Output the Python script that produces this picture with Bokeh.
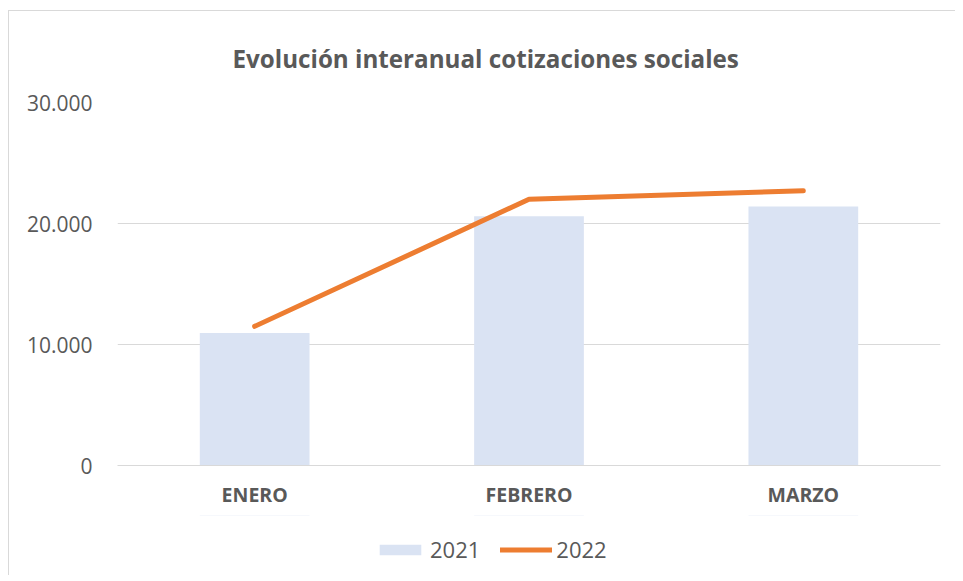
from bokeh.plotting import figure
from bokeh.layouts import column
from bokeh.models import ColumnDataSource, Legend, LegendItem, CustomJSTickFormatter, FixedTicker, Range1d
from bokeh.embed import file_html
from bokeh.resources import INLINE

months = ["ENERO", "FEBRERO", "MARZO"]
v2021 = [10950, 20600, 21400]
v2022 = [11500, 22000, 22700]
series_names = ["2021", "2022"]
title_text = "Evolución interanual cotizaciones sociales"
yticks = [0, 10000, 20000, 30000]

src = ColumnDataSource(dict(m=months, a=v2021, b=v2022))

FONT = "Open Sans"
GREY = "#595959"
BAR = "#dae3f3"
LINE = "#ed7d31"

p = figure(x_range=months, y_range=(0, 30000), width=946, height=504,
           output_backend="svg", toolbar_location=None,
           min_border_left=108, min_border_right=15, min_border_top=89, min_border_bottom=50)
p.outline_line_color = None

bars = p.vbar(x="m", top="a", width=0.4, source=src, fill_color=BAR, line_color=None)
line = p.line(x="m", y="b", source=src, line_color=LINE, line_width=5, line_cap="round", line_join="round")

p.title.text = title_text
p.title.align = "left"
p.title.offset = 115
p.title.standoff = 56
p.title.text_font = FONT
p.title.text_font_size = "24.2px"
p.title.text_font_style = "bold"
p.title.text_color = GREY

p.yaxis.ticker = FixedTicker(ticks=yticks)
p.yaxis.formatter = CustomJSTickFormatter(code="return tick == 0 ? '0' : (tick/1000).toFixed(0) + '.000';")
p.yaxis.axis_line_color = None
p.yaxis.major_tick_line_color = None
p.yaxis.minor_tick_line_color = None
p.yaxis.major_label_text_font = FONT
p.yaxis.major_label_text_font_size = "21px"
p.yaxis.major_label_text_color = GREY
p.yaxis.major_label_standoff = 19

p.xaxis.axis_line_color = "#d9d9d9"
p.xaxis.axis_line_width = 1
p.xaxis.major_tick_line_color = None
p.xaxis.minor_tick_line_color = None
p.xaxis.major_label_text_font = FONT
p.xaxis.major_label_text_font_size = "19.5px"
p.xaxis.major_label_text_font_style = "bold"
p.xaxis.major_label_text_color = GREY
p.xaxis.major_label_standoff = 9

p.xgrid.grid_line_color = None
p.ygrid.grid_line_color = "#d9d9d9"
p.ygrid.grid_line_width = 1

# legend strip below the chart (series drawn out of view, only their legend entries show)
lf = figure(width=946, height=60, x_range=months, y_range=Range1d(-60000, -30000),
            output_backend="svg", toolbar_location=None,
            x_axis_location=None, y_axis_location=None,
            min_border_left=108, min_border_right=15, min_border_top=0, min_border_bottom=0)
lf.outline_line_color = None
lf.xgrid.grid_line_color = None
lf.ygrid.grid_line_color = None
proxy_bar = lf.vbar(x="m", top="a", width=0.4, source=src, fill_color=BAR, line_color=None)
proxy_line = lf.line(x="m", y="b", source=src, line_color=LINE, line_width=5, line_cap="round")

legend = Legend(items=[LegendItem(label=series_names[0], renderers=[proxy_bar]),
                       LegendItem(label=series_names[1], renderers=[proxy_line])],
                orientation="horizontal", location=(257, 11),
                label_text_font=FONT, label_text_font_size="22px", label_text_color=GREY,
                border_line_color=None, background_fill_alpha=0,
                glyph_width=52, glyph_height=13, spacing=20, label_standoff=4, padding=4, margin=0)
lf.add_layout(legend)

layout = column(p, lf, spacing=0,
                styles={"margin-left": "8px", "margin-top": "10px",
                        "border-left": "1px solid #d9d9d9", "border-top": "1px solid #d9d9d9"})

open("out.html", "w").write(file_html(layout, INLINE))
